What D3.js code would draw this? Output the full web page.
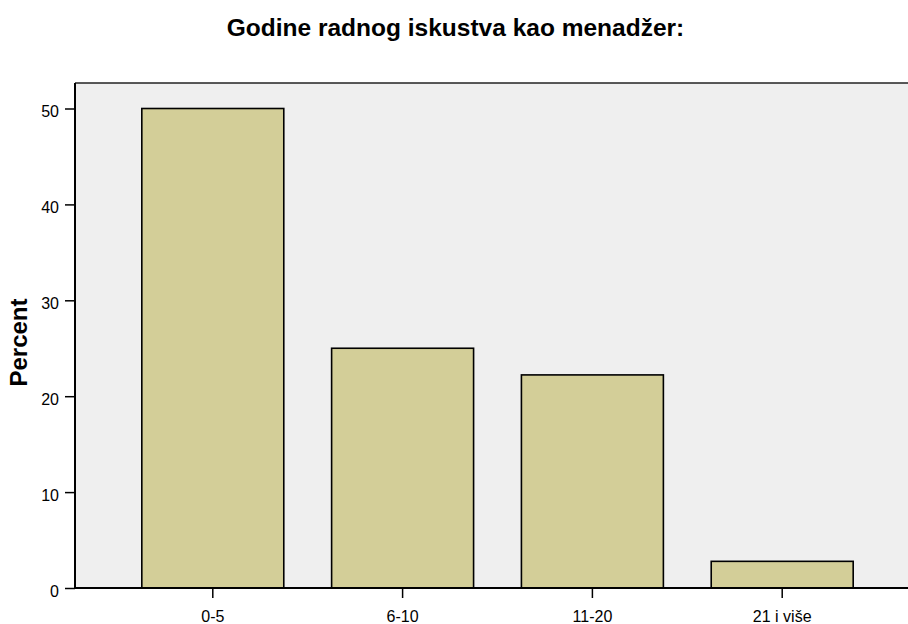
<!DOCTYPE html>
<html><head><meta charset="utf-8">
<script src="https://cdn.jsdelivr.net/npm/d3@7"></script>
<style>body{margin:0;background:#fff}svg{display:block}</style>
</head><body>
<svg id="c" width="908" height="624"></svg>
<script>
const categories = ["0-5", "6-10", "11-20", "21 i više"];
const percents = [50, 25, 22.22, 2.78];
const yTicks = [0, 10, 20, 30, 40, 50];
const title = "Godine radnog iskustva kao menadžer:";
const yLabel = "Percent";

const FONT = "Liberation Sans, Arial, Helvetica, sans-serif";
const svg = d3.select("#c");
const L = 75, R = 920, T = 83, B = 588;
const x = d3.scaleBand().domain(categories).range([L, R]).paddingInner(0.252).paddingOuter(0.352);
const y = d3.scaleLinear().domain([0, 50]).range([B, 108.5]);

svg.append("rect").attr("x", L).attr("y", T).attr("width", R - L).attr("height", B - T).attr("fill", "#efefef");
svg.append("line").attr("x1", L).attr("x2", R).attr("y1", T).attr("y2", T).attr("stroke", "#222").attr("stroke-width", 1.5);

svg.selectAll("rect.bar").data(percents).join("rect").attr("class", "bar")
  .attr("x", (d, i) => x(categories[i]))
  .attr("y", d => y(d))
  .attr("width", x.bandwidth())
  .attr("height", d => B - y(d))
  .attr("fill", "#d3ce98").attr("stroke", "#000").attr("stroke-width", 1.6);

const ya = svg.append("g").attr("transform", `translate(${L},0)`)
  .call(d3.axisLeft(y).tickValues(yTicks).tickSize(10).tickPadding(6).tickFormat(d3.format("d")));
ya.select(".domain").attr("d", `M0,${T}V${B}`).attr("stroke", "#000").attr("stroke-width", 2);
ya.selectAll(".tick line").attr("stroke", "#000").attr("stroke-width", 1.5);
ya.selectAll("text").attr("font-family", FONT).attr("font-size", 16).attr("fill", "#000").attr("dy", "0.5em");

const xa = svg.append("g").attr("transform", `translate(0,${B})`)
  .call(d3.axisBottom(x).tickSize(10).tickPadding(13));
xa.select(".domain").attr("d", `M${L},0H${R}`).attr("stroke", "#000").attr("stroke-width", 2);
xa.selectAll(".tick line").attr("stroke", "#000").attr("stroke-width", 1.5);
xa.selectAll("text").attr("font-family", FONT).attr("font-size", 16).attr("fill", "#000");

svg.append("text").attr("x", 455.5).attr("y", 36).attr("text-anchor", "middle")
  .attr("font-family", FONT).attr("font-weight", "bold").attr("font-size", 24.5)
  .text(title);
svg.append("text").attr("transform", "translate(27,342.5) rotate(-90)").attr("text-anchor", "middle")
  .attr("font-family", FONT).attr("font-weight", "bold").attr("font-size", 24)
  .text(yLabel);
</script>
</body></html>
